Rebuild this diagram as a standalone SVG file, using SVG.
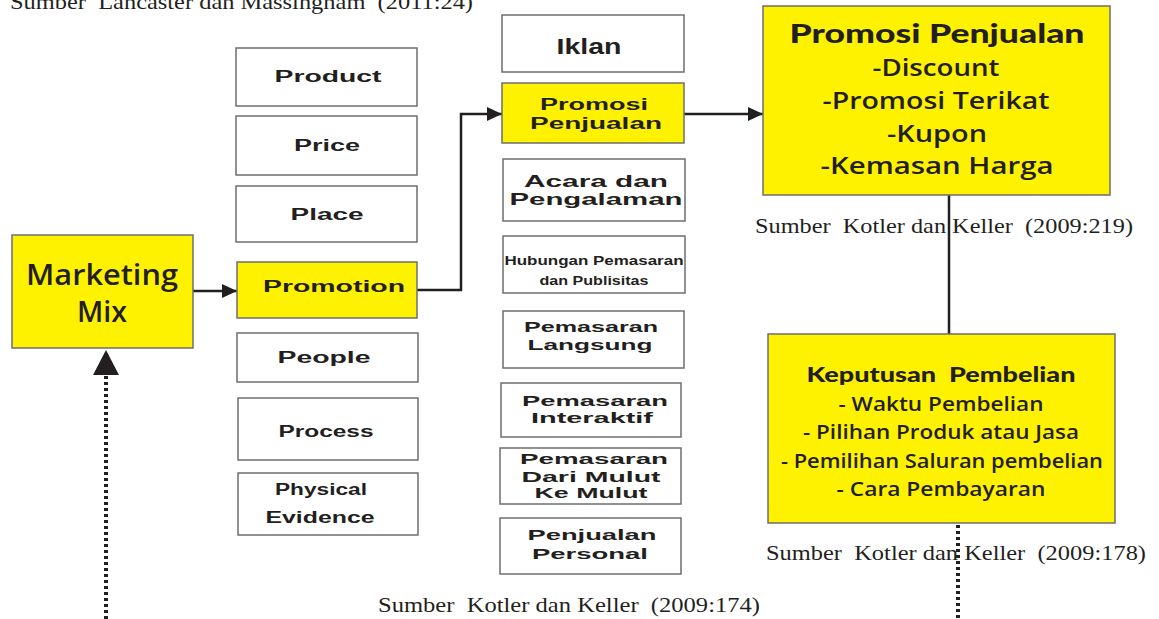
<svg xmlns="http://www.w3.org/2000/svg" width="1159" height="619" viewBox="0 0 1159 619">
<style>
.box{stroke:#6d6e71;stroke-width:1.5;fill:#fff}
.yel{stroke:#6d6e71;stroke-width:1.5;fill:#fff200}
.lbl{font-family:"Liberation Sans",Arial,sans-serif;font-weight:bold;fill:#231f20;text-anchor:middle}
.big{font-family:"Open Sans","Liberation Sans",sans-serif;font-weight:600;fill:#231f20;text-anchor:middle}
.hvy{font-family:Lato,"Liberation Sans",sans-serif;font-weight:900;fill:#231f20;text-anchor:middle}
.src{font-family:"Liberation Serif","Times New Roman",serif;font-size:22px;fill:#231f20}
.con{stroke:#231f20;stroke-width:2.5;fill:none}
.dot{stroke:#231f20;stroke-width:4;fill:none;stroke-dasharray:3 3}
</style>
<defs>
<marker id="ah" markerWidth="15" markerHeight="14" refX="15" refY="7" orient="auto" markerUnits="userSpaceOnUse">
<path d="M0,0 L15,7 L0,14 Z" fill="#231f20"/>
</marker>
</defs>

<text class="src" x="10" y="9" textLength="463" lengthAdjust="spacingAndGlyphs" xml:space="preserve">Sumber  Lancaster dan Massingham  (2011:24)</text>

<g id="connectors">
<line class="con" x1="193" y1="291" x2="237" y2="291" marker-end="url(#ah)"/>
<polyline class="con" points="417,290 461,290 461,114 502,114" marker-end="url(#ah)"/>
<line class="con" x1="684" y1="114" x2="763" y2="114" marker-end="url(#ah)"/>
<line class="con" x1="949" y1="195" x2="949" y2="334"/>
<line class="dot" x1="958" y1="525" x2="958" y2="619"/>
<line class="dot" x1="106" y1="619" x2="106" y2="374"/>
<path d="M93,375 L106,350 L119,375 Z" fill="#231f20"/>
</g>

<g id="marketing-mix">
<rect class="yel" x="12" y="235" width="181" height="113"/>
<text class="big" x="102" y="285" font-size="28" textLength="152" lengthAdjust="spacingAndGlyphs">Marketing</text>
<text class="big" x="102" y="322" font-size="28" textLength="50" lengthAdjust="spacingAndGlyphs">Mix</text>
</g>

<g id="product"><rect class="box" x="236" y="48" width="181" height="58"/>
<text class="lbl" x="328" y="82" font-size="16" textLength="107" lengthAdjust="spacingAndGlyphs">Product</text></g>
<g id="price"><rect class="box" x="236" y="116" width="181" height="59"/>
<text class="lbl" x="327" y="151" font-size="16" textLength="66" lengthAdjust="spacingAndGlyphs">Price</text></g>
<g id="place"><rect class="box" x="236" y="186" width="181" height="56"/>
<text class="lbl" x="327" y="220" font-size="16" textLength="73" lengthAdjust="spacingAndGlyphs">Place</text></g>
<g id="promotion"><rect class="yel" x="237" y="262" width="180" height="56"/>
<text class="lbl" x="334" y="292" font-size="16" textLength="142" lengthAdjust="spacingAndGlyphs">Promotion</text></g>
<g id="people"><rect class="box" x="237" y="333" width="181" height="49"/>
<text class="lbl" x="324" y="363" font-size="16" textLength="93" lengthAdjust="spacingAndGlyphs">People</text></g>
<g id="process"><rect class="box" x="238" y="398" width="180" height="62"/>
<text class="lbl" x="326" y="437" font-size="16" textLength="95" lengthAdjust="spacingAndGlyphs">Process</text></g>
<g id="physical-evidence"><rect class="box" x="238" y="473" width="180" height="62"/>
<text class="lbl" x="321" y="495" font-size="16" textLength="92" lengthAdjust="spacingAndGlyphs">Physical</text>
<text class="lbl" x="320" y="523" font-size="16" textLength="109" lengthAdjust="spacingAndGlyphs">Evidence</text></g>

<g id="iklan"><rect class="box" x="502" y="15" width="182" height="57"/>
<text class="lbl" x="589" y="54" font-size="22" textLength="65" lengthAdjust="spacingAndGlyphs">Iklan</text></g>
<g id="promosi-penjualan-small"><rect class="yel" x="502" y="83" width="182" height="60"/>
<text class="lbl" x="594" y="110" font-size="16" textLength="108" lengthAdjust="spacingAndGlyphs">Promosi</text>
<text class="lbl" x="596" y="129" font-size="16" textLength="132" lengthAdjust="spacingAndGlyphs">Penjualan</text></g>
<g id="acara"><rect class="box" x="503" y="159" width="182" height="62"/>
<text class="lbl" x="596" y="187" font-size="17" textLength="144" lengthAdjust="spacingAndGlyphs">Acara dan</text>
<text class="lbl" x="596" y="205" font-size="17" textLength="173" lengthAdjust="spacingAndGlyphs">Pengalaman</text></g>
<g id="hubungan"><rect class="box" x="503" y="236" width="182" height="57"/>
<text class="lbl" x="594" y="265" font-size="13" font-weight="normal" textLength="179" lengthAdjust="spacingAndGlyphs">Hubungan Pemasaran</text>
<text class="lbl" x="594" y="285" font-size="13" font-weight="normal" textLength="109" lengthAdjust="spacingAndGlyphs">dan Publisitas</text></g>
<g id="langsung"><rect class="box" x="503" y="311" width="181" height="57"/>
<text class="lbl" x="591" y="332" font-size="15" textLength="134" lengthAdjust="spacingAndGlyphs">Pemasaran</text>
<text class="lbl" x="590" y="350" font-size="15" textLength="125" lengthAdjust="spacingAndGlyphs">Langsung</text></g>
<g id="interaktif"><rect class="box" x="501" y="383" width="180" height="54"/>
<text class="lbl" x="595" y="406" font-size="15" textLength="146" lengthAdjust="spacingAndGlyphs">Pemasaran</text>
<text class="lbl" x="592" y="423" font-size="15" textLength="122" lengthAdjust="spacingAndGlyphs">Interaktif</text></g>
<g id="mulut"><rect class="box" x="500" y="448" width="181" height="56"/>
<text class="lbl" x="594" y="464" font-size="15" textLength="148" lengthAdjust="spacingAndGlyphs">Pemasaran</text>
<text class="lbl" x="591" y="482" font-size="15" textLength="139" lengthAdjust="spacingAndGlyphs">Dari Mulut</text>
<text class="lbl" x="591" y="498" font-size="15" textLength="113" lengthAdjust="spacingAndGlyphs">Ke Mulut</text></g>
<g id="personal"><rect class="box" x="500" y="518" width="181" height="56"/>
<text class="lbl" x="592" y="540" font-size="15" textLength="129" lengthAdjust="spacingAndGlyphs">Penjualan</text>
<text class="lbl" x="590" y="559" font-size="15" textLength="116" lengthAdjust="spacingAndGlyphs">Personal</text></g>
<text class="src" x="378" y="612" textLength="382" lengthAdjust="spacingAndGlyphs" xml:space="preserve">Sumber  Kotler dan Keller  (2009:174)</text>

<g id="promosi-penjualan-detail">
<rect class="yel" x="763" y="6" width="347" height="189"/>
<text class="hvy" x="937" y="43" font-size="26" textLength="295" lengthAdjust="spacingAndGlyphs">Promosi Penjualan</text>
<text class="big" x="936" y="76" font-size="24" font-weight="500" textLength="127" lengthAdjust="spacingAndGlyphs">-Discount</text>
<text class="big" x="936" y="109" font-size="24" font-weight="500" textLength="227" lengthAdjust="spacingAndGlyphs">-Promosi Terikat</text>
<text class="big" x="937" y="142" font-size="24" font-weight="500" textLength="100" lengthAdjust="spacingAndGlyphs">-Kupon</text>
<text class="big" x="937" y="174" font-size="24" font-weight="500" textLength="233" lengthAdjust="spacingAndGlyphs">-Kemasan Harga</text>
</g>
<text class="src" x="755" y="233" textLength="378" lengthAdjust="spacingAndGlyphs" xml:space="preserve">Sumber  Kotler dan Keller  (2009:219)</text>

<g id="keputusan-pembelian">
<rect class="yel" x="768" y="334" width="347" height="189"/>
<text class="hvy" x="941" y="382" font-size="21" textLength="269" lengthAdjust="spacingAndGlyphs" xml:space="preserve">Keputusan  Pembelian</text>
<text class="big" x="941" y="411" font-size="20" font-weight="500" textLength="205" lengthAdjust="spacingAndGlyphs">- Waktu Pembelian</text>
<text class="big" x="941" y="439" font-size="20" font-weight="500" textLength="276" lengthAdjust="spacingAndGlyphs">- Pilihan Produk atau Jasa</text>
<text class="big" x="942" y="468" font-size="20" font-weight="500" textLength="322" lengthAdjust="spacingAndGlyphs">- Pemilihan Saluran pembelian</text>
<text class="big" x="941" y="496" font-size="20" font-weight="500" textLength="209" lengthAdjust="spacingAndGlyphs">- Cara Pembayaran</text>
</g>
<text class="src" x="766" y="560" textLength="380" lengthAdjust="spacingAndGlyphs" xml:space="preserve">Sumber  Kotler dan Keller  (2009:178)</text>
</svg>
